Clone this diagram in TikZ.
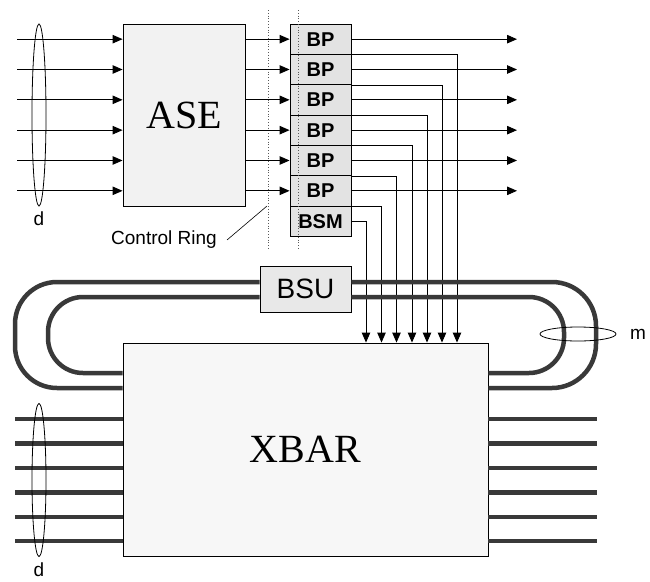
\documentclass[tikz,border=0pt]{standalone}
\usepackage{fontspec}
\setmainfont{Liberation Serif}
\setsansfont{Liberation Sans}
\usetikzlibrary{arrows.meta,shapes.geometric}
\begin{document}
\begin{tikzpicture}[x=1pt,y=-1pt,
  thin line/.style={line width=0.9pt,black},
  arr/.style={thin line,-{Triangle[length=10pt,width=8.5pt]}},
  bigbox/.style={draw,line width=0.9pt,rectangle,inner sep=0pt,font=\fontsize{40}{40}\selectfont},
  bpcell/.style={draw,line width=0.9pt,rectangle,inner sep=0pt,fill=gray!22,
     minimum width=61pt,minimum height=30.33pt,font=\sffamily\bfseries\fontsize{20}{20}\selectfont},
  ring/.style={line width=4.5pt,gray!45!black},
  bus/.style={line width=4.5pt,gray!45!black},
  grp/.style={draw,ellipse,line width=0.8pt,inner sep=0pt},
  lbl/.style={font=\sffamily\fontsize{19}{19}\selectfont,inner sep=0pt},
  ctrl/.style={dotted,line width=0.8pt,gray!70!black}
]
\useasboundingbox (0,0) rectangle (650,581);

% main boxes
\node[bigbox,fill=gray!10,minimum width=122pt,minimum height=182pt] (ASE) at (184,115) {ASE};
\node[bigbox,fill=gray!6,minimum width=365pt,minimum height=213pt] (XBAR) at (305.5,449.5) {XBAR};
\node[draw,line width=0.9pt,rectangle,inner sep=0pt,fill=gray!18,minimum width=91pt,minimum height=46pt,
      font=\sffamily\fontsize{28}{28}\selectfont] (BSU) at (305.5,289) {BSU};

% BP column
\foreach \i in {1,...,6}{
  \node[bpcell] (BP\i) at (320.5,{24+30.33*(\i-0.5)}) {BP};
}
\node[bpcell] (BSM) at (320.5,{24+30.33*6.5}) {BSM};

% control ring (dotted)
\coordinate (cr1a) at (268,10); \coordinate (cr1b) at (268,249);
\coordinate (cr2a) at (298,10); \coordinate (cr2b) at (298,249);
\draw[ctrl] (cr1a) -- (cr1b);
\draw[ctrl] (cr2a) -- (cr2b);
\node[lbl] (CR) at (164,240) {Control Ring};
\coordinate (crp) at (267,206);
\draw[line width=0.6pt] (CR.east)++(10pt,0) coordinate (cre) (cre) -- (crp);

% inputs, ASE->BP, outputs
\foreach \i in {1,...,6}{
  \coordinate (in\i) at (17,0 |- BP\i.center);
  \coordinate (out\i) at (517,0 |- BP\i.center);
  \draw[arr] (in\i) -- (in\i -| ASE.west);
  \draw[arr] (BP\i.west -| ASE.east) -- (BP\i.west);
  \draw[arr] (BP\i.east) -- (out\i);
}

% BP -> XBAR verticals
\coordinate (v1) at (457,0); \coordinate (v2) at (442,0); \coordinate (v3) at (427,0);
\coordinate (v4) at (412,0); \coordinate (v5) at (396.5,0); \coordinate (v6) at (381.5,0);
\coordinate (v7) at (366,0);
\foreach \i in {1,...,6}{
  \draw[arr] (BP\i.south east) -| (v\i |- XBAR.north);
}
\draw[arr] (BSM.east) -| (v7 |- XBAR.north);

% ring
\coordinate (yo) at (0,388); \coordinate (yi) at (0,373);
\draw[ring,rounded corners=42pt] ([yshift=7pt]BSU.west) -- (15,282) -- (15,388) -- (XBAR.west |- yo);
\draw[ring,rounded corners=35pt] ([yshift=-8pt]BSU.west) -- (48,297) -- (48,373) -- (XBAR.west |- yi);
\draw[ring,rounded corners=44pt] ([yshift=7pt]BSU.east) -- (596,282) -- (596,388) -- (XBAR.east |- yo);
\draw[ring,rounded corners=35pt] ([yshift=-8pt]BSU.east) -- (564,297) -- (564,373) -- (XBAR.east |- yi);

% data buses at bottom
\foreach \y [count=\k] in {419,443.5,468,492.5,517,541}{
  \coordinate (bl\k) at (15,\y);
  \coordinate (br\k) at (597,\y);
  \draw[bus] (bl\k) -- (bl\k -| XBAR.west);
  \draw[bus] (br\k -| XBAR.east) -- (br\k);
}

% group ellipses and labels
\node[grp,minimum width=14pt,minimum height=182pt] (dtop) at (39,115) {};
\node[lbl] (dtoplbl) at (39,219) {d};
\node[grp,minimum width=14pt,minimum height=153pt] (dbot) at (39,480) {};
\node[lbl] (dbotlbl) at (39,570) {d};
\node[grp,minimum width=76pt,minimum height=14pt] (mell) at (578,334) {};
\node[lbl] (mlbl) at (638,334) {m};
\end{tikzpicture}
\end{document}
